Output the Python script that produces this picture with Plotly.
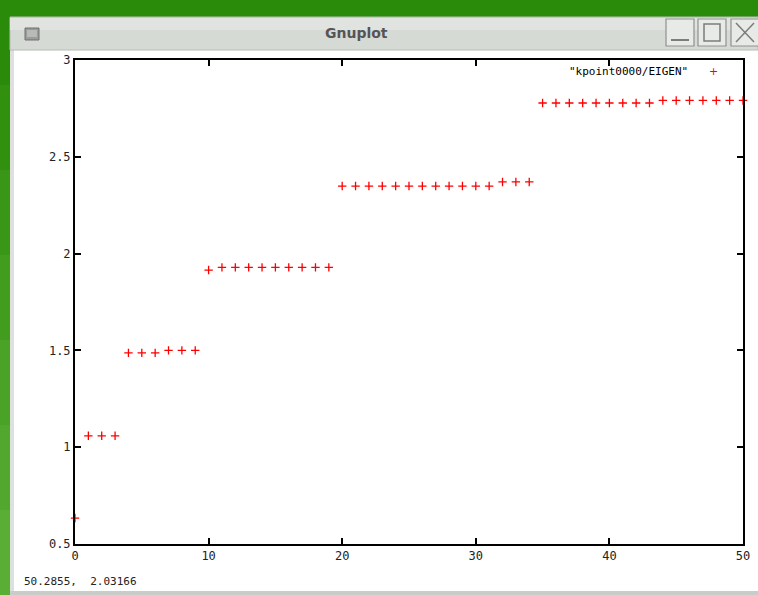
import plotly.graph_objects as go

# ---- data ----
band_index = list(range(0, 51))
eigen_values = [
    0.634,
    1.059, 1.059, 1.059,
    1.487, 1.487, 1.487, 1.500, 1.500, 1.500,
    1.915, 1.929, 1.929, 1.929, 1.929, 1.929, 1.929, 1.929, 1.929, 1.929,
    2.349, 2.349, 2.349, 2.349, 2.349, 2.349, 2.349, 2.349, 2.349, 2.349, 2.349, 2.349,
    2.370, 2.370, 2.370,
    2.778, 2.778, 2.778, 2.778, 2.778, 2.778, 2.778, 2.778, 2.778,
    2.791, 2.791, 2.791, 2.791, 2.791, 2.791, 2.791,
]
series_name = '"kpoint0000/EIGEN"'
x_ticks = [0, 10, 20, 30, 40, 50]
y_ticks = [0.5, 1, 1.5, 2, 2.5, 3]
window_title = "Gnuplot"
status_text = "50.2855,  2.03166"

W, H = 758, 595


def px(x):
    return x / W


def py(y):
    return 1 - y / H


fig = go.Figure()
fig.add_trace(go.Scatter(
    x=band_index, y=eigen_values, mode="markers", name=series_name,
    marker=dict(symbol="cross-thin", size=6, line=dict(width=1.3, color="#ff0000"), color="#ff0000"),
    cliponaxis=False, showlegend=False,
))

shapes = []
# window frame: green top band
shapes.append(dict(type="rect", xref="paper", yref="paper", x0=px(0), x1=px(W), y0=py(17), y1=py(0),
                   fillcolor="#2a8a0a", line=dict(width=0), layer="below"))
# left green strip (gradient approximated)
greens = ["#2a8a0a", "#32900f", "#3a9616", "#429c1e", "#4aa226", "#52a82e", "#5aae36"]
seg = H / len(greens)
for i, c in enumerate(greens):
    shapes.append(dict(type="rect", xref="paper", yref="paper", x0=px(0), x1=px(10),
                       y0=py((i + 1) * seg), y1=py(i * seg), fillcolor=c, line=dict(width=0), layer="below"))
# window border left light strip
shapes.append(dict(type="rect", xref="paper", yref="paper", x0=px(10), x1=px(14), y0=py(592), y1=py(17),
                   fillcolor="#dde0dd", line=dict(width=0), layer="below"))
# title bar
shapes.append(dict(type="rect", xref="paper", yref="paper", x0=px(10), x1=px(W), y0=py(50), y1=py(17),
                   fillcolor="#d6dad5", line=dict(width=1, color="#b8bcb8"), layer="below"))
shapes.append(dict(type="rect", xref="paper", yref="paper", x0=px(10), x1=px(W), y0=py(30), y1=py(18),
                   fillcolor="#e0e3df", line=dict(width=0), layer="below"))
# bottom border
shapes.append(dict(type="rect", xref="paper", yref="paper", x0=px(10), x1=px(W), y0=py(595), y1=py(591),
                   fillcolor="#c9ccc8", line=dict(width=0), layer="below"))
# icon
shapes.append(dict(type="rect", xref="paper", yref="paper", x0=px(25), x1=px(39), y0=py(40), y1=py(28),
                   fillcolor="#9a9c9a", line=dict(width=1, color="#6e706e"), layer="above"))
shapes.append(dict(type="rect", xref="paper", yref="paper", x0=px(27), x1=px(37), y0=py(37), y1=py(30),
                   fillcolor="#b8bab8", line=dict(width=0), layer="above"))
# window buttons
for (bx0, bx1) in [(666, 694), (698, 726), (731, 759)]:
    shapes.append(dict(type="rect", xref="paper", yref="paper", x0=px(bx0), x1=px(bx1), y0=py(46), y1=py(19),
                       fillcolor="#e8eae7", line=dict(width=1.2, color="#8e918e"), layer="above"))
# minimize glyph
shapes.append(dict(type="line", xref="paper", yref="paper", x0=px(671), x1=px(689), y0=py(40), y1=py(40),
                   line=dict(width=2, color="#7a7d7a")))
# maximize glyph
shapes.append(dict(type="rect", xref="paper", yref="paper", x0=px(704), x1=px(720), y0=py(41), y1=py(24),
                   line=dict(width=1.5, color="#7a7d7a")))
# close glyph
shapes.append(dict(type="line", xref="paper", yref="paper", x0=px(736), x1=px(754), y0=py(42), y1=py(23),
                   line=dict(width=1.5, color="#7a7d7a")))
shapes.append(dict(type="line", xref="paper", yref="paper", x0=px(736), x1=px(754), y0=py(23), y1=py(42),
                   line=dict(width=1.5, color="#7a7d7a")))

annotations = [
    dict(text=window_title, xref="paper", yref="paper", x=px(356), y=py(33), showarrow=False,
         font=dict(family="DejaVu Sans", size=14, color="#555555", weight="bold"),
         xanchor="center", yanchor="middle"),
    dict(text=status_text, xref="paper", yref="paper", x=px(22), y=py(581), showarrow=False,
         font=dict(family="DejaVu Sans Mono", size=11, color="#222222"), xanchor="left", yanchor="middle"),
    dict(text=series_name, xref="paper", yref="paper", x=px(690), y=py(71), showarrow=False,
         font=dict(family="DejaVu Sans Mono", size=11, color="#000000"), xanchor="right", yanchor="middle"),
    dict(text="+", xref="paper", yref="paper", x=px(713), y=py(71), showarrow=False,
         font=dict(family="DejaVu Sans", size=11, color="#ff0000"), xanchor="center", yanchor="middle"),
]

fig.update_layout(
    width=W, height=H,
    margin=dict(l=0, r=0, t=0, b=0),
    paper_bgcolor="white", plot_bgcolor="white",
    shapes=shapes, annotations=annotations,
    xaxis=dict(domain=[px(75), px(743)], range=[0, 50], tickvals=x_ticks, ticks="inside", ticklen=6,
               tickwidth=2, tickcolor="black", showline=True, linecolor="black", linewidth=2,
               mirror="allticks", showgrid=False, zeroline=False, automargin=False,
               tickfont=dict(family="DejaVu Sans Mono", size=12, color="#222222")),
    yaxis=dict(domain=[py(544), py(60)], range=[0.5, 3], tickvals=y_ticks, ticks="inside", ticklen=6,
               tickwidth=2, tickcolor="black", showline=True, linecolor="black", linewidth=2,
               mirror="allticks", showgrid=False, zeroline=False, automargin=False,
               tickfont=dict(family="DejaVu Sans Mono", size=12, color="#222222")),
)

fig.write_html("out.html", config={"displayModeBar": False},
               post_script="document.body.style.margin='0';document.body.style.overflow='hidden';")
